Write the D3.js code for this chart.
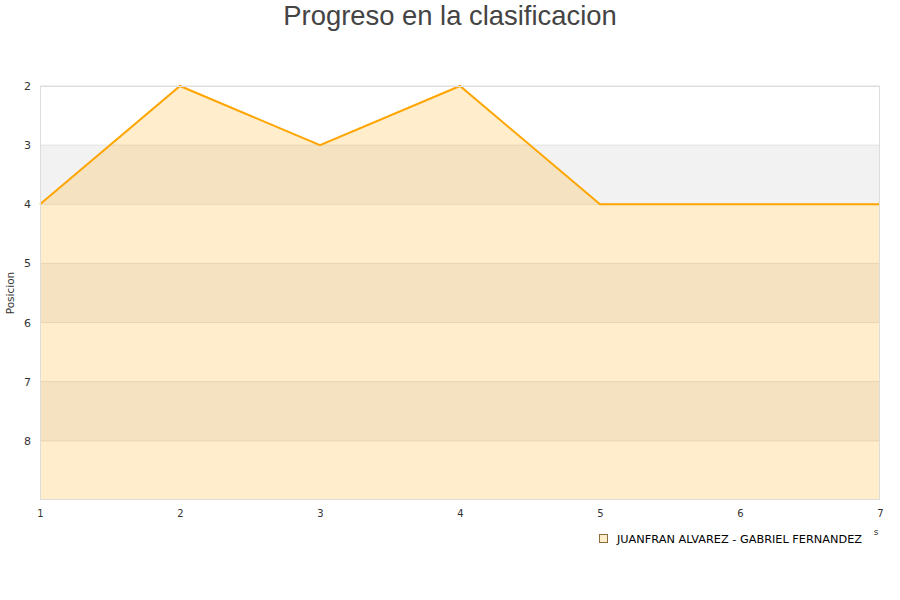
<!DOCTYPE html>
<html>
<head>
<meta charset="utf-8">
<script src="https://cdn.jsdelivr.net/npm/d3@7"></script>
<style>
  body { margin: 0; background: #fff; }
  svg { display: block; }
</style>
</head>
<body>
<script>
// datos
const jornadas = [1, 2, 3, 4, 5, 6, 7];
const posiciones = [4, 2, 3, 2, 4, 4, 4];
const yTicks = [2, 3, 4, 5, 6, 7, 8];
const serieNombre = "JUANFRAN ALVAREZ - GABRIEL FERNANDEZ";

const width = 900, height = 600;
const margin = { top: 86, right: 20, bottom: 100, left: 40 };
const innerW = width - margin.left - margin.right;
const innerH = height - margin.top - margin.bottom;

const svg = d3.select("body").append("svg")
    .attr("width", width)
    .attr("height", height);

const x = d3.scaleLinear().domain([1, 7]).range([margin.left, margin.left + innerW]);
const y = d3.scaleLinear().domain([2, 9]).range([margin.top, margin.top + innerH]);

// bandas alternas
const bands = d3.range(2, 9);
svg.append("g")
    .selectAll("rect")
    .data(bands)
    .join("rect")
    .attr("x", margin.left)
    .attr("y", (d) => y(d))
    .attr("width", innerW)
    .attr("height", (d) => y(d + 1) - y(d))
    .attr("fill", (d, i) => (i % 2 === 1 ? "#f2f2f2" : "#ffffff"));

// lineas de rejilla
svg.append("g")
    .selectAll("line")
    .data(yTicks)
    .join("line")
    .attr("x1", margin.left)
    .attr("x2", margin.left + innerW)
    .attr("y1", (d) => y(d))
    .attr("y2", (d) => y(d))
    .attr("stroke", "#e0e0e0")
    .attr("stroke-width", 1);

// area
const data = jornadas.map((j, i) => ({ j: j, p: posiciones[i] }));
const area = d3.area()
    .x((d) => x(d.j))
    .y0(y(9))
    .y1((d) => y(d.p));
svg.append("path")
    .datum(data)
    .attr("d", area)
    .attr("fill", "rgba(255,165,0,0.2)");

const line = d3.line()
    .x((d) => x(d.j))
    .y((d) => y(d.p));
svg.append("path")
    .datum(data)
    .attr("d", line)
    .attr("fill", "none")
    .attr("stroke", "#ffa500")
    .attr("stroke-width", 2);

// borde
svg.append("rect")
    .attr("x", margin.left + 0.5)
    .attr("y", margin.top + 0.5)
    .attr("width", innerW - 1)
    .attr("height", innerH - 1)
    .attr("fill", "none")
    .attr("stroke", "#dddddd");

// ejes
const yAxis = svg.append("g")
    .attr("transform", "translate(" + margin.left + ",0)")
    .call(d3.axisLeft(y).tickValues(yTicks).tickFormat(d3.format("d")).tickSize(0).tickPadding(9));
yAxis.select(".domain").remove();
yAxis.selectAll("text")
    .attr("font-family", "DejaVu Sans, sans-serif")
    .attr("font-size", 11)
    .attr("fill", "#333");

const xAxis = svg.append("g")
    .attr("transform", "translate(0," + (margin.top + innerH) + ")")
    .call(d3.axisBottom(x).tickValues(jornadas).tickFormat(d3.format("d")).tickSize(0).tickPadding(10));
xAxis.select(".domain").remove();
xAxis.selectAll("text")
    .attr("font-family", "DejaVu Sans, sans-serif")
    .attr("font-size", 10)
    .attr("fill", "#333");

// titulo
svg.append("text")
    .attr("x", width / 2)
    .attr("y", 25)
    .attr("text-anchor", "middle")
    .attr("font-family", "Liberation Sans, Arial, sans-serif")
    .attr("font-size", 27.4)
    .attr("fill", "#444")
    .text("Progreso en la clasificacion");

// etiqueta eje y
svg.append("text")
    .attr("transform", "translate(14," + (margin.top + innerH / 2) + ") rotate(-90)")
    .attr("text-anchor", "middle")
    .attr("font-family", "DejaVu Sans, sans-serif")
    .attr("font-size", 10.5)
    .attr("fill", "#333")
    .text("Posicion");

// resto de la etiqueta del eje x
svg.append("text")
    .attr("x", 876)
    .attr("y", 535)
    .attr("text-anchor", "middle")
    .attr("font-family", "DejaVu Sans, sans-serif")
    .attr("font-size", 9)
    .attr("fill", "#333")
    .text("s");

// leyenda
const legend = svg.append("g").attr("transform", "translate(599,534)");
legend.append("rect")
    .attr("x", 0.5)
    .attr("y", 0.5)
    .attr("width", 8)
    .attr("height", 8)
    .attr("fill", "rgba(255,165,0,0.2)")
    .attr("stroke", "#8a6d3b")
    .attr("stroke-width", 1);
legend.append("text")
    .attr("x", 18)
    .attr("y", 8.5)
    .attr("font-family", "DejaVu Sans, sans-serif")
    .attr("font-size", 11.3)
    .attr("fill", "#000")
    .text(serieNombre);
</script>
</body>
</html>
